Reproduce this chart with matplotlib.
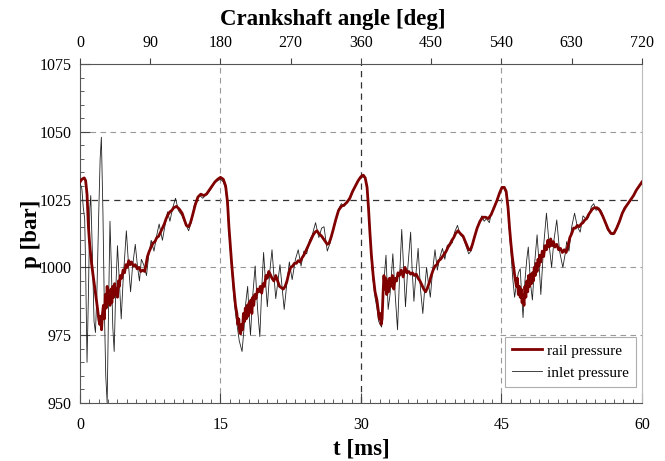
#!/usr/bin/env python3

import matplotlib
matplotlib.use("Agg")
import matplotlib.pyplot as plt
from matplotlib.ticker import MultipleLocator

rail_colour = "#800000"
inlet_colour = "#222222"

# rail pressure (t in ms, p in bar)
rail_t = [0.0, 0.2, 0.45, 0.6, 0.75, 0.9, 1.0, 1.1, 1.25, 1.4, 1.6, 1.75, 1.9, 2.0, 2.1, 2.2, 2.3, 2.4, 2.5, 2.6,
          2.7, 2.8, 2.9, 3.0, 3.1, 3.2, 3.3, 3.4, 3.5, 3.6, 3.7, 3.8, 3.9, 4.0, 4.1, 4.2, 4.3, 4.45, 4.6, 4.75,
          4.9, 5.05, 5.2, 5.35, 5.5, 5.7, 5.9, 6.1, 6.3, 6.5, 6.7, 6.9, 7.05, 7.2, 7.4, 7.6, 7.8, 8.0, 8.2, 8.4,
          8.6, 8.8, 9.0, 9.2, 9.4, 9.6, 9.8, 10.0, 10.3, 10.6, 10.9, 11.1, 11.35, 11.6, 11.8, 12.0, 12.3, 12.6, 12.9, 13.2,
          13.5, 13.8, 14.1, 14.4, 14.7, 15.0, 15.3, 15.55, 15.75, 15.9, 16.05, 16.2, 16.4, 16.6, 16.75, 16.85, 16.95, 17.05, 17.15, 17.25,
          17.35, 17.45, 17.55, 17.65, 17.75, 17.85, 17.95, 18.05, 18.15, 18.25, 18.35, 18.45, 18.55, 18.65, 18.8, 18.95, 19.1, 19.25, 19.4, 19.55,
          19.7, 19.85, 20.0, 20.15, 20.3, 20.5, 20.7, 20.9, 21.1, 21.3, 21.5, 21.7, 21.9, 22.1, 22.3, 22.5, 22.7, 22.9, 23.1, 23.3,
          23.5, 23.7, 23.9, 24.1, 24.3, 24.5, 24.7, 24.9, 25.1, 25.3, 25.5, 25.8, 26.1, 26.4, 26.6, 26.8, 27.0, 27.3, 27.6, 27.9,
          28.2, 28.5, 28.8, 29.1, 29.4, 29.7, 30.0, 30.25, 30.45, 30.65, 30.8, 30.95, 31.1, 31.3, 31.5, 31.7, 31.85, 31.95, 32.05, 32.15,
          32.25, 32.35, 32.45, 32.55, 32.65, 32.75, 32.85, 32.95, 33.05, 33.2, 33.35, 33.5, 33.65, 33.8, 33.95, 34.1, 34.3, 34.5, 34.7, 34.9,
          35.1, 35.3, 35.5, 35.7, 35.9, 36.1, 36.3, 36.5, 36.7, 36.9, 37.1, 37.3, 37.5, 37.7, 37.9, 38.1, 38.3, 38.5, 38.7, 38.9,
          39.1, 39.3, 39.5, 39.7, 39.9, 40.1, 40.35, 40.6, 40.9, 41.2, 41.5, 41.7, 41.9, 42.1, 42.4, 42.7, 43.0, 43.3, 43.6, 43.9,
          44.2, 44.5, 44.8, 45.05, 45.3, 45.5, 45.7, 45.85, 46.0, 46.15, 46.3, 46.45, 46.6, 46.7, 46.8, 46.9, 47.0, 47.1, 47.2, 47.3,
          47.4, 47.5, 47.6, 47.7, 47.8, 47.9, 48.0, 48.1, 48.2, 48.3, 48.4, 48.5, 48.6, 48.7, 48.8, 48.9, 49.0, 49.1, 49.2, 49.35,
          49.5, 49.65, 49.8, 49.95, 50.1, 50.25, 50.4, 50.55, 50.7, 50.9, 51.1, 51.3, 51.5, 51.7, 51.9, 52.1, 52.3, 52.5, 52.7, 52.9,
          53.1, 53.3, 53.5, 53.7, 53.9, 54.1, 54.3, 54.5, 54.7, 54.9, 55.2, 55.5, 55.8, 56.1, 56.4, 56.7, 57.0, 57.3, 57.6, 57.9,
          58.2, 58.5, 58.8, 59.1, 59.4, 59.7, 60.0]
rail_p = [1031.5, 1032.5, 1033.0, 1032.0, 1027.0, 1015.0, 1010.0, 1006.0, 1001.0, 997.0, 992.0, 988.0, 984.0, 981.0, 979.0, 982.0, 977.0, 983.0, 986.0, 981.0,
          990.0, 985.0, 993.0, 988.0, 991.0, 986.0, 992.0, 987.0, 993.0, 989.0, 994.0, 990.0, 992.0, 989.0, 995.0, 993.0, 997.0, 996.0, 999.0, 998.0,
          1001.0, 1000.0, 1002.5, 1001.0, 1002.0, 1000.5, 1001.0, 999.5, 1000.0, 998.5, 999.0, 998.5, 1001.0, 1004.0, 1006.0, 1007.5, 1009.0, 1009.5, 1011.0, 1011.5,
          1013.0, 1014.5, 1016.0, 1018.0, 1019.5, 1020.5, 1021.0, 1022.0, 1022.5, 1021.5, 1020.0, 1018.0, 1015.5, 1015.0, 1016.5, 1019.0, 1023.0, 1026.0, 1027.0, 1026.5,
          1027.0, 1028.5, 1030.0, 1031.5, 1032.5, 1033.2, 1032.5, 1030.0, 1024.0, 1015.0, 1008.0, 1001.0, 993.0, 986.0, 983.0, 979.0, 981.0, 976.0, 975.5, 979.0,
          977.0, 983.0, 980.0, 985.0, 981.0, 986.0, 982.0, 987.0, 984.0, 988.0, 983.0, 989.0, 986.0, 990.0, 988.5, 992.0, 991.0, 993.0, 990.5, 994.0,
          993.0, 997.0, 996.0, 998.5, 997.5, 996.0, 995.0, 997.0, 995.0, 993.0, 992.5, 992.0, 993.0, 995.0, 998.0, 1000.0, 1000.5, 1001.5, 1001.5, 1002.5,
          1002.0, 1003.5, 1004.5, 1006.0, 1007.5, 1009.0, 1010.5, 1012.0, 1013.0, 1013.5, 1012.5, 1011.5, 1010.0, 1008.5, 1009.0, 1011.0, 1013.5, 1017.5, 1021.0, 1022.5,
          1023.0, 1024.0, 1025.5, 1028.0, 1030.0, 1032.0, 1033.5, 1034.0, 1033.0, 1029.5, 1022.0, 1013.0, 1005.0, 997.0, 991.0, 988.0, 984.0, 981.0, 983.0, 979.0,
          981.0, 990.0, 997.0, 992.0, 996.0, 990.0, 995.0, 991.0, 996.0, 993.0, 997.0, 992.0, 996.0, 995.0, 998.0, 997.0, 999.0, 996.5, 1000.0, 998.0,
          998.5, 997.5, 998.0, 997.0, 997.5, 996.0, 995.0, 993.5, 992.0, 991.0, 992.5, 994.5, 997.0, 999.0, 1000.5, 1001.0, 1002.5, 1003.0, 1004.0, 1005.0,
          1006.0, 1007.5, 1008.5, 1010.0, 1011.0, 1012.5, 1013.5, 1012.5, 1011.5, 1009.0, 1006.5, 1006.5, 1008.5, 1011.0, 1014.5, 1017.0, 1018.5, 1018.5, 1018.0, 1019.5,
          1022.0, 1024.5, 1027.5, 1029.5, 1029.5, 1028.0, 1022.0, 1015.0, 1009.0, 1004.0, 1000.0, 996.0, 993.0, 996.0, 990.0, 993.0, 989.0, 992.0, 987.0, 990.0,
          986.0, 993.0, 989.0, 995.0, 991.0, 997.0, 993.0, 997.5, 994.0, 998.0, 995.0, 1000.0, 997.0, 1001.5, 998.5, 1003.0, 1000.5, 1004.5, 1002.0, 1006.0,
          1004.0, 1008.0, 1006.5, 1010.0, 1007.5, 1010.5, 1008.0, 1009.5, 1007.5, 1008.5, 1006.5, 1007.0, 1005.5, 1006.5, 1005.5, 1008.0, 1011.0, 1012.5, 1014.5, 1014.5,
          1015.5, 1015.0, 1016.0, 1016.5, 1017.5, 1018.0, 1019.5, 1020.5, 1021.5, 1022.0, 1022.0, 1021.0, 1019.0, 1016.5, 1014.0, 1012.5, 1012.5, 1014.5, 1017.0, 1020.0,
          1022.0, 1023.5, 1025.0, 1026.5, 1028.5, 1030.0, 1031.5]

# inlet pressure
inlet_t = [0.0, 0.2, 0.35, 0.5, 0.6, 0.75, 0.9, 1.05, 1.15, 1.3, 1.5, 1.65, 1.8, 2.0, 2.15, 2.28, 2.45, 2.6, 2.75, 2.9,
           3.05, 3.2, 3.35, 3.5, 3.65, 3.8, 4.0, 4.2, 4.4, 4.6, 4.95, 5.2, 5.4, 5.6, 5.9, 6.15, 6.35, 6.55, 6.8, 7.1,
           7.35, 7.6, 7.9, 8.2, 8.45, 8.8, 9.1, 9.35, 9.6, 9.9, 10.2, 10.5, 10.9, 11.2, 11.6, 11.9, 12.2, 12.5, 12.8, 13.1,
           13.4, 13.7, 14.0, 14.3, 14.7, 15.0, 15.3, 15.55, 15.75, 15.9, 16.05, 16.2, 16.4, 16.6, 16.8, 17.0, 17.3, 17.5, 17.7, 17.9,
           18.05, 18.2, 18.45, 18.7, 18.95, 19.2, 19.4, 19.6, 19.8, 20.0, 20.25, 20.5, 20.7, 20.9, 21.1, 21.35, 21.6, 21.8, 22.05, 22.35,
           22.65, 23.0, 23.3, 23.6, 23.9, 24.2, 24.5, 24.8, 25.15, 25.5, 25.8, 26.05, 26.4, 26.7, 27.0, 27.3, 27.6, 27.9, 28.2, 28.5,
           28.8, 29.1, 29.4, 29.7, 30.0, 30.25, 30.45, 30.65, 30.8, 30.95, 31.1, 31.3, 31.5, 31.7, 31.9, 32.2, 32.45, 32.67, 32.9, 33.1,
           33.4, 33.65, 33.9, 34.1, 34.35, 34.55, 34.75, 35.0, 35.3, 35.45, 35.65, 35.85, 36.1, 36.35, 36.6, 36.8, 37.0, 37.2, 37.4, 37.65,
           37.9, 38.15, 38.4, 38.7, 38.95, 39.2, 39.5, 39.75, 40.0, 40.3, 40.6, 40.9, 41.2, 41.5, 41.75, 42.0, 42.3, 42.6, 42.9, 43.15,
           43.4, 43.7, 43.95, 44.2, 44.5, 44.8, 45.05, 45.3, 45.5, 45.7, 45.85, 46.0, 46.2, 46.4, 46.6, 46.8, 47.0, 47.15, 47.3, 47.5,
           47.7, 47.86, 48.1, 48.3, 48.55, 48.8, 49.0, 49.2, 49.5, 49.8, 50.1, 50.35, 50.6, 50.9, 51.2, 51.55, 51.8, 51.96, 52.2, 52.5,
           52.8, 53.1, 53.4, 53.7, 54.0, 54.3, 54.6, 54.85, 55.1, 55.4, 55.7, 56.0, 56.3, 56.6, 56.9, 57.2, 57.5, 57.8, 58.1, 58.4,
           58.7, 59.0, 59.3, 59.6, 60.0]
inlet_p = [1031.0, 1029.0, 1022.0, 1018.0, 1000.0, 965.0, 990.0, 1022.0, 1026.5, 1008.0, 980.0, 976.0, 990.0, 1020.0, 1040.0, 1048.0, 1020.0, 985.0, 960.0, 950.0,
           985.0, 1017.0, 1000.0, 978.0, 969.0, 990.0, 1008.0, 995.0, 981.0, 995.0, 1013.5, 1000.0, 991.0, 1000.0, 1008.5, 1000.0, 995.0, 1003.0, 1001.0, 997.0,
           1005.0, 1010.0, 1006.0, 1012.0, 1016.0, 1010.0, 1016.0, 1020.5, 1017.0, 1022.0, 1025.5, 1021.0, 1019.0, 1016.5, 1013.5, 1017.0, 1023.0, 1025.5, 1026.5, 1025.5,
           1026.5, 1027.5, 1029.0, 1031.0, 1032.0, 1032.5, 1031.5, 1029.0, 1022.0, 1013.0, 1006.0, 999.0, 990.0, 983.0, 978.0, 973.0, 969.0, 977.0, 987.0, 993.0,
           983.0, 975.0, 990.0, 1000.5, 985.0, 974.5, 992.0, 1005.5, 995.0, 985.5, 998.0, 1006.5, 997.0, 988.5, 994.0, 1001.0, 992.0, 984.5, 993.0, 1002.0,
           995.5, 1003.0, 1006.5, 1000.5, 1006.0, 1005.0, 1010.0, 1012.0, 1016.5, 1011.0, 1014.5, 1015.0, 1006.0, 1009.0, 1014.0, 1017.5, 1021.5, 1023.5, 1022.5, 1024.5,
           1025.0, 1027.5, 1030.0, 1032.0, 1033.0, 1033.5, 1032.5, 1029.0, 1021.0, 1012.0, 1003.0, 995.0, 989.0, 985.0, 980.0, 978.0, 995.0, 1004.5, 984.5, 990.0,
           1005.0, 990.0, 977.0, 995.0, 1014.0, 1000.0, 985.5, 1000.0, 1013.0, 1000.0, 987.5, 997.0, 1007.0, 992.0, 983.0, 992.0, 1000.0, 994.0, 989.0, 999.0,
           1006.5, 999.0, 1003.5, 1007.0, 1003.0, 1008.0, 1009.0, 1009.0, 1013.0, 1015.5, 1012.0, 1011.0, 1008.0, 1005.0, 1006.0, 1009.5, 1013.5, 1016.5, 1019.0, 1017.0,
           1018.0, 1016.5, 1020.5, 1021.5, 1025.0, 1027.5, 1029.0, 1029.0, 1027.0, 1021.0, 1013.0, 1006.0, 996.0, 989.0, 994.0, 998.0, 999.5, 990.0, 981.5, 995.0,
           1003.0, 1007.5, 994.0, 988.0, 1002.0, 1012.0, 1002.0, 990.0, 1008.0, 1020.0, 1008.0, 1000.0, 1010.0, 1017.5, 1006.0, 1000.0, 1005.0, 1009.5, 1006.0, 1015.0,
           1020.0, 1015.0, 1013.0, 1019.0, 1018.0, 1018.5, 1022.5, 1023.5, 1021.0, 1022.0, 1020.5, 1017.0, 1014.0, 1012.5, 1012.0, 1014.0, 1016.5, 1019.5, 1022.0, 1023.0,
           1024.5, 1026.0, 1028.0, 1029.5, 1031.0]

t_ticks = [0, 15, 30, 45, 60]
angle_ticks = [0, 90, 180, 270, 360, 450, 540, 630, 720]
p_ticks = [950, 975, 1000, 1025, 1050, 1075]


def main():
    plt.rcParams["font.family"] = ["Liberation Serif", "DejaVu Serif"]

    fig = plt.figure(figsize=(6.65, 4.61), dpi=100)
    ax = fig.add_axes([0.1203, 0.1258, 0.8451, 0.7354])

    ax.plot(inlet_t, inlet_p, color=inlet_colour, lw=0.6, label="inlet pressure", zorder=3)
    ax.plot(rail_t, rail_p, color=rail_colour, lw=2.0, label="rail pressure", zorder=4)

    ax.set_xlim(0, 60)
    ax.set_ylim(950, 1075)
    ax.set_xticks(t_ticks)
    ax.set_yticks(p_ticks)
    ax.xaxis.set_minor_locator(MultipleLocator(1))
    ax.yaxis.set_minor_locator(MultipleLocator(5))
    ax.tick_params(axis="both", which="both", direction="in", colors="#444444", labelcolor="black", labelsize=11.5)
    ax.tick_params(axis="both", which="major", length=7, width=0.8)
    ax.tick_params(axis="both", which="minor", length=3, width=0.6)
    ax.tick_params(axis="x", which="minor", top=True)
    ax.tick_params(axis="x", which="major", pad=10)
    ax.tick_params(axis="y", which="major", pad=6)

    # dashed grid, darker at 1025 bar and 30 ms
    for v in [975, 1000, 1050]:
        ax.axhline(v, color="#999999", lw=0.8, ls=(0, (5, 4)), zorder=1)
    ax.axhline(1025, color="#333333", lw=0.9, ls=(0, (5, 4)), zorder=1)
    for v in [15, 45]:
        ax.axvline(v, color="#999999", lw=0.8, ls=(0, (5, 4)), zorder=1)
    ax.axvline(30, color="#333333", lw=0.9, ls=(0, (5, 4)), zorder=1)

    for side in ["left", "bottom", "top"]:
        ax.spines[side].set_color("#555555")
        ax.spines[side].set_linewidth(0.8)
    ax.spines["right"].set_color("#bbbbbb")

    ax.set_xlabel("t [ms]", fontsize=16.5, fontweight="bold", labelpad=4)
    ax.set_ylabel("p [bar]", fontsize=16.5, fontweight="bold")
    ax.yaxis.set_label_coords(-0.068, 0.5)

    ax2 = ax.twiny()
    ax2.set_xlim(0, 720)
    ax2.set_xticks(angle_ticks)
    ax2.tick_params(axis="x", direction="out", length=4, width=0.8, colors="#444444", labelcolor="black",
                    labelsize=11.5, pad=5)
    ax2.set_xlabel("Crankshaft angle [deg]", fontsize=16.5, fontweight="bold")
    ax2.xaxis.set_label_coords(0.45, 1.0 + 39 / 339)
    for side in ax2.spines:
        ax2.spines[side].set_visible(False)

    handles, labels = ax.get_legend_handles_labels()
    leg = ax.legend(handles[::-1], labels[::-1], loc="lower right", bbox_to_anchor=(0.997, 0.035),
                    fontsize=11, frameon=True, fancybox=False, edgecolor="#999999",
                    handlelength=2.0, borderpad=0.45, labelspacing=0.55, handletextpad=0.3,
                    borderaxespad=0.3)
    leg.get_frame().set_linewidth(0.8)

    fig.savefig("out.png", dpi=100)


if __name__ == "__main__":
    main()
